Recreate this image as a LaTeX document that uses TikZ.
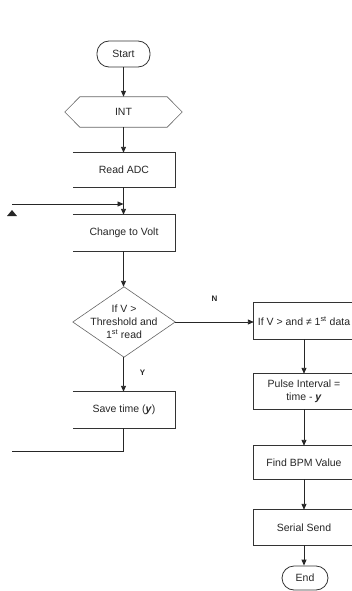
\documentclass[tikz,border=0pt]{standalone}
\usepackage{fontspec}
\setmainfont{Liberation Sans}
\usetikzlibrary{arrows.meta,calc}
\tikzset{
  txt/.style={font=\fontsize{10.5}{13}\selectfont, text=black!85, inner sep=0pt, align=center},
  openbox/.style={txt, minimum width=102pt, minimum height=35pt},
  rbox/.style={txt, minimum width=100pt, minimum height=35pt},
  term/.style={txt, draw=black!80, line width=0.8pt, rounded corners=12pt},
  flow/.style={draw=black!85, line width=0.9pt, -{Triangle[width=5pt,length=6pt]}},
  plain/.style={draw=black!85, line width=0.9pt},
  edge/.style={draw=black!80, line width=0.8pt},
  thin/.style={draw=black!60, line width=0.6pt},
  lab/.style={font=\fontsize{8}{9}\selectfont\bfseries, text=black!85, inner sep=0pt}
}
\begin{document}
\begin{tikzpicture}[x=1pt,y=-1pt]
\useasboundingbox (0,0) rectangle (352,591);
\clip (0,0) rectangle (352,591);
% left column
\node[term, minimum width=53pt, minimum height=26pt] (start) at (123.5,54) {Start};
\node[txt, minimum width=117pt, minimum height=30pt] (int) at (123.5,112) {INT};
\draw[thin] (int.west) -- ($(int.north west)+(15,0)$) -- ($(int.north east)+(-15,0)$) -- (int.east)
  -- ($(int.south east)+(-15,0)$) -- ($(int.south west)+(15,0)$) -- cycle;
\node[openbox, minimum height=34pt] (adc) at (124,170) {Read ADC};
\node[openbox, minimum height=36pt] (volt) at (124,233) {Change to Volt};
\node[txt, minimum width=102pt, minimum height=70pt] (dec) at (124,322)
  {If V >\\Threshold and\\1\textsuperscript{st} read};
\draw[thin] (dec.north) -- (dec.east) -- (dec.south) -- (dec.west) -- cycle;
\node[openbox, minimum height=36pt] (save) at (124,410) {Save time (\textbf{\textit{y}})};
\foreach \b in {adc,volt,save}{
  \draw[edge] (\b.north west) -- (\b.north east) -- (\b.south east) -- (\b.south west);
}
% right column (boxes run past the right edge of the picture)
\node[rbox, minimum height=36pt] (ifv) at (304,321) {If V > and ≠ 1\textsuperscript{st} data};
\node[rbox, minimum height=35pt] (pulse) at (304,391.5) {Pulse Interval =\\time - \textbf{\textit{y}}};
\node[rbox, minimum height=33pt] (bpm) at (304,462.5) {Find BPM Value};
\node[rbox, minimum height=35pt] (serial) at (304,527.5) {Serial Send};
\foreach \b in {ifv,pulse,bpm,serial}{
  \draw[edge] (\b.north west) rectangle ($(\b.south east)+(8,0)$);
}
\node[term, minimum width=46pt, minimum height=24pt] (end) at (305,578) {End};
% connectors
\coordinate (join) at (123.5,204);
\coordinate (loopstart) at (12,204);
\coordinate (bend) at (123.5,451);
\coordinate (loopend) at (12,451);
\draw[flow] (start.south -| join) -- (int.north -| join);
\draw[flow] (int.south -| join) -- (adc.north -| join);
\draw[flow] (adc.south -| join) -- (volt.north -| join);
\draw[flow] (loopstart) -- (join);
\draw[flow] (volt.south -| join) -- (dec.north -| join);
\draw[flow] (dec.south -| join) -- node[lab, pos=0.45, right=16pt] {Y} (save.north -| join);
\draw[plain] (save.south -| join) -- (bend) -- (loopend);
\draw[flow] (dec.east) -- node[lab, above=20pt, pos=0.5] {N} (ifv.west |- dec.east);
\draw[flow] (ifv.south) -- (pulse.north);
\draw[flow] (pulse.south) -- (bpm.north);
\draw[flow] (bpm.south) -- (serial.north);
\draw[flow] (serial.south) -- (serial.south |- end.north);
% stray arrowhead
\fill[black!85] (7,216) -- (17,216) -- (12,210) -- cycle;
\end{tikzpicture}
\end{document}
